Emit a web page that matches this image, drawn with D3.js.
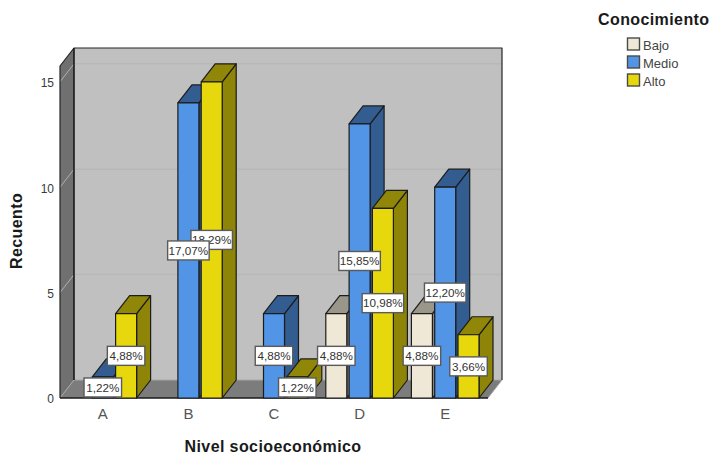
<!DOCTYPE html>
<html>
<head>
<meta charset="utf-8">
<script src="https://cdn.jsdelivr.net/npm/d3@7"></script>
<style>
html, body { margin: 0; padding: 0; background: #fff; }
svg { display: block; }
text { font-family: "Liberation Sans", Arial, sans-serif; }
</style>
</head>
<body>
<svg id="chart" width="712" height="455"></svg>
<script>
// Clustered 3D column chart: count by socioeconomic level and knowledge level
const categories = ["A", "B", "C", "D", "E"];
const seriesNames = ["Bajo", "Medio", "Alto"];
const bajo = [0, 0, 0, 4, 4];
const medio = [1, 14, 4, 13, 10];
const alto = [4, 15, 1, 9, 3];
const bajoLabels = ["", "", "", "4,88%", "4,88%"];
const medioLabels = ["1,22%", "17,07%", "4,88%", "15,85%", "12,20%"];
const altoLabels = ["4,88%", "18,29%", "1,22%", "10,98%", "3,66%"];
const yTicks = [0, 5, 10, 15];
const yMax = 15.75;

const faceColors = [
  { front: "#efe8d6", top: "#9a968a", side: "#8a8778" },
  { front: "#5294e6", top: "#335d91", side: "#335d91" },
  { front: "#e6d80c", top: "#908708", side: "#8d8408" }
];
const values = [bajo, medio, alto];
const labels = [bajoLabels, medioLabels, altoLabels];

const depthX = 14, depthY = -18;
const x = d3.scaleBand().domain(categories).range([60, 488]);
const y = d3.scaleLinear().domain([0, yMax]).range([398, 66]);
const barWidth = 21, barStep = 23.3;
const groupOffset = (x.bandwidth() - (2 * barStep + barWidth)) / 2;
const barLeft = (c, s) => x(c) + groupOffset + s * barStep;

const svg = d3.select("#chart");
const poly = pts => pts.map(p => p.join(",")).join(" ");

// Chart box: back wall, left wall and floor
const x0 = x.range()[0], x1 = x.range()[1], yB = y(0), yT = y(yMax);
svg.append("polygon").attr("points", poly([[x0 + depthX, yB + depthY], [x1 + depthX, yB + depthY], [x1 + depthX, yT + depthY], [x0 + depthX, yT + depthY]]))
  .attr("fill", "#c0c0c0");
svg.append("polygon").attr("points", poly([[x0, yB], [x0 + depthX, yB + depthY], [x0 + depthX, yT + depthY], [x0, yT]]))
  .attr("fill", "#707070");
svg.append("polygon").attr("points", poly([[x0, yB], [x1, yB], [x1 + depthX, yB + depthY], [x0 + depthX, yB + depthY]]))
  .attr("fill", "#7c7c7c");

// Gridlines across the back wall and down the left wall
yTicks.filter(t => t > 0).forEach(t => {
  svg.append("line").attr("x1", x0 + depthX).attr("x2", x1 + depthX)
    .attr("y1", y(t) + depthY).attr("y2", y(t) + depthY)
    .attr("stroke", "#b8b8b8").attr("stroke-width", 1.5);
  svg.append("line").attr("x1", x0).attr("x2", x0 + depthX)
    .attr("y1", y(t)).attr("y2", y(t) + depthY)
    .attr("stroke", "#b0b0b0").attr("stroke-width", 1);
});

// Box edges: dark along the top and left, light where the floor meets the wall
const boxEdges = svg.append("g").attr("fill", "none").attr("stroke-linejoin", "round");
boxEdges.append("polyline").attr("points", poly([[x0 + depthX, yB + depthY], [x1 + depthX, yB + depthY], [x1, yB]]))
  .attr("stroke", "#a8a8a8").attr("stroke-width", 1);
boxEdges.append("polyline").attr("points", poly([[x0, yB], [x0 + depthX, yB + depthY]]))
  .attr("stroke", "#a8a8a8").attr("stroke-width", 1);
boxEdges.append("polyline").attr("points", poly([[x0, yB], [x0, yT], [x0 + depthX, yT + depthY], [x1 + depthX, yT + depthY], [x1 + depthX, yB + depthY]]))
  .attr("stroke", "#262626").attr("stroke-width", 1.2);
boxEdges.append("polyline").attr("points", poly([[x0 + depthX, yT + depthY], [x0 + depthX, yB + depthY]]))
  .attr("stroke", "#111").attr("stroke-width", 1.5);
boxEdges.append("line").attr("x1", x0).attr("x2", x1).attr("y1", yB).attr("y2", yB)
  .attr("stroke", "#1a1a1a").attr("stroke-width", 1.5);

// Columns, each drawn from its value through the scales
const barLayer = svg.append("g").attr("stroke", "#1c1c1c").attr("stroke-width", 1.2).attr("stroke-linejoin", "round");
categories.forEach((c, ci) => {
  values.forEach((vals, si) => {
    const v = vals[ci];
    if (!v) return;
    const l = barLeft(c, si), r = l + barWidth, t = y(v), b = y(0);
    const col = faceColors[si];
    barLayer.append("polygon").attr("points", poly([[r, b], [r + depthX, b + depthY], [r + depthX, t + depthY], [r, t]])).attr("fill", col.side);
    barLayer.append("polygon").attr("points", poly([[l, t], [r, t], [r + depthX, t + depthY], [l + depthX, t + depthY]])).attr("fill", col.top);
    barLayer.append("rect").attr("x", l).attr("y", t).attr("width", barWidth).attr("height", b - t).attr("fill", col.front);
  });
});

// Percentage labels centred on the front face of each column
const labelLayer = svg.append("g");
[2, 1, 0].forEach(si => {
  categories.forEach((c, ci) => {
    const v = values[si][ci];
    if (!v) return;
    const text = labels[si][ci];
    const cx = barLeft(c, si) + barWidth / 2, cy = (y(v) + y(0)) / 2;
    const w = text.length > 5 ? 41.5 : 37.5, h = 19;
    labelLayer.append("rect").attr("x", cx - w / 2).attr("y", cy - h / 2).attr("width", w).attr("height", h)
      .attr("fill", "#fff").attr("stroke", "#5a5a5a").attr("stroke-width", 1.4);
    labelLayer.append("text").attr("x", cx).attr("y", cy + 4.3).attr("text-anchor", "middle")
      .attr("font-size", 11.7).attr("fill", "#333").text(text);
  });
});

// Axis labels
const yAxis = d3.axisLeft(y).tickValues(yTicks).tickSize(0).tickPadding(6);
const yG = svg.append("g").attr("transform", `translate(${x0},1)`).call(yAxis);
yG.select(".domain").remove();
yG.selectAll("text").attr("font-size", 12).attr("fill", "#3a3a3a").attr("font-family", '"Liberation Sans", Arial, sans-serif');

const xAxis = d3.axisBottom(x).tickSize(0).tickPadding(10);
const xG = svg.append("g").attr("transform", `translate(0,${yB})`).call(xAxis);
xG.select(".domain").remove();
xG.selectAll("text").attr("font-size", 15).attr("fill", "#555").attr("font-family", '"Liberation Sans", Arial, sans-serif');

svg.append("text").attr("x", 273).attr("y", 451.5).attr("text-anchor", "middle")
  .attr("font-size", 16).attr("font-weight", "bold").attr("fill", "#1a1a1a").attr("letter-spacing", 0.4).text("Nivel socioeconómico");
svg.append("text").attr("transform", "translate(22,231) rotate(-90)").attr("text-anchor", "middle")
  .attr("font-size", 16).attr("font-weight", "bold").attr("fill", "#1a1a1a").attr("letter-spacing", 0.4).text("Recuento");

// Legend
svg.append("text").attr("x", 598).attr("y", 25).attr("font-size", 16).attr("font-weight", "bold")
  .attr("fill", "#1a1a1a").attr("letter-spacing", 0.4).text("Conocimiento");
const legend = svg.append("g");
seriesNames.forEach((name, i) => {
  const ly = 38 + i * 18;
  legend.append("rect").attr("x", 627.5).attr("y", ly).attr("width", 12).attr("height", 12)
    .attr("fill", faceColors[i].front).attr("stroke", "#4a4a4a").attr("stroke-width", 1.4);
  legend.append("text").attr("x", 643).attr("y", ly + 12).attr("font-size", 13).attr("fill", "#444").text(name);
});
</script>
</body>
</html>
